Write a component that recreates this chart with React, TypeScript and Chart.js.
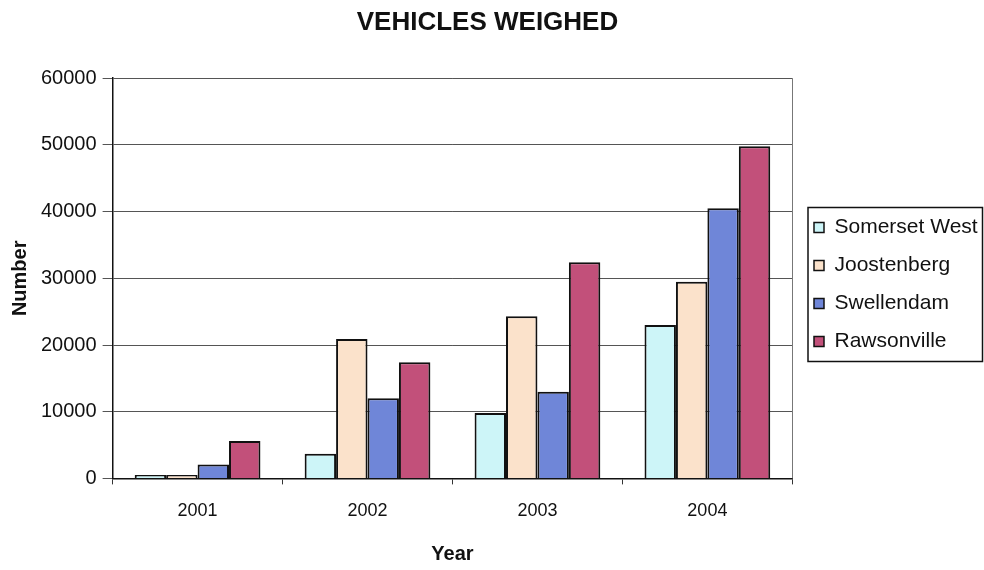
import React, { useEffect, useRef } from 'react';
import { Chart, registerables } from 'chart.js';

Chart.register(...registerables);

const years = ['2001', '2002', '2003', '2004'];
const somersetWest = [500, 3700, 9800, 23000];
const joostenberg = [500, 20900, 24300, 29500];
const swellendam = [2100, 12000, 13000, 40500];
const rawsonville = [5600, 17400, 32400, 49800];
const seriesNames = ['Somerset West', 'Joostenberg', 'Swellendam', 'Rawsonville'];
const seriesColors = ['#cdf5f8', '#fbe2cb', '#6f86d8', '#c2507a'];
const yMin = 0;
const yMax = 60000;
const yStep = 10000;

const FONT = '"Liberation Sans", Arial, sans-serif';

// places the legend block and title, draws the legend frame and the plot-area right edge
const frames = {
  id: 'frames',
  afterLayout(chart: any) {
    const lg = chart.legend;
    if (lg) {
      const w = lg.right - lg.left;
      lg.left = 797;
      lg.right = lg.left + w;
      const h = lg.bottom - lg.top;
      lg.top = 200;
      lg.bottom = lg.top + h;
    }
    const tb = chart.titleBlock;
    if (tb) {
      tb.left -= 8;
      tb.right -= 8;
    }
  },
  beforeDatasetsDraw(chart: any) {
    const { ctx, chartArea } = chart;
    ctx.save();
    ctx.strokeStyle = '#777';
    ctx.lineWidth = 1;
    ctx.beginPath();
    ctx.moveTo(Math.round(chartArea.right) + 0.5, chartArea.top);
    ctx.lineTo(Math.round(chartArea.right) + 0.5, chartArea.bottom);
    ctx.stroke();
    ctx.restore();
  },
  afterDraw(chart: any) {
    const lg = chart.legend;
    if (!lg || !lg.legendHitBoxes || !lg.legendHitBoxes.length) return;
    const boxes = lg.legendHitBoxes;
    let l = Infinity, t = Infinity, b = -Infinity;
    for (const h of boxes) {
      l = Math.min(l, h.left);
      t = Math.min(t, h.top);
      b = Math.max(b, h.top + h.height);
    }
    const ctx = chart.ctx;
    ctx.save();
    ctx.strokeStyle = '#111';
    ctx.lineWidth = 1.5;
    const x0 = l - 6;
    const y0 = t - 9.5;
    ctx.strokeRect(x0, y0, chart.width - 1.5 - x0, b + 9.5 - y0);
    ctx.restore();
  },
};

export default function App() {
  const ref = useRef<HTMLCanvasElement | null>(null);
  useEffect(() => {
    document.body.style.margin = '0';
    const canvas = ref.current!;
    const data = [somersetWest, joostenberg, swellendam, rawsonville];
    const chart = new Chart(canvas, {
      type: 'bar',
      data: {
        labels: years,
        datasets: data.map((d, i) => ({
          label: seriesNames[i],
          data: d,
          backgroundColor: seriesColors[i],
          borderColor: '#111',
          borderWidth: 2,
          barPercentage: 1,
          categoryPercentage: 0.74,
        })),
      },
      options: {
        responsive: false,
        animation: false,
        devicePixelRatio: 1,
        layout: { padding: { left: 8, right: 1, top: 5, bottom: 4 } },
        plugins: {
          title: {
            display: true,
            text: 'VEHICLES WEIGHED',
            color: '#111',
            font: { family: FONT, size: 26, weight: 'bold' },
            padding: { top: 2, bottom: 40 },
          },
          legend: {
            display: true,
            position: 'right',
            align: 'start',
            labels: {
              color: '#111',
              font: { family: FONT, size: 21 },
              boxWidth: 10,
              boxHeight: 10,
              padding: 17,
              generateLabels: (chart: any) =>
                chart.data.datasets.map((ds: any, i: number) => ({
                  text: ds.label,
                  fillStyle: ds.backgroundColor,
                  strokeStyle: '#111',
                  lineWidth: 1.5,
                  datasetIndex: i,
                  hidden: false,
                  fontColor: '#111',
                })),
            },
          },
          tooltip: { enabled: false },
        },
        scales: {
          x: {
            grid: { display: true, drawOnChartArea: false, drawTicks: true, tickLength: 6, color: '#333', offset: true },
            border: { display: true, color: '#111', width: 1.5 },
            ticks: { color: '#111', font: { family: FONT, size: 18 }, padding: 16 },
            title: {
              display: true,
              text: 'Year',
              color: '#111',
              font: { family: FONT, size: 20, weight: 'bold' },
              padding: { top: 4, bottom: 0 },
            },
          },
          y: {
            min: yMin,
            max: yMax,
            grid: { color: '#555', lineWidth: 1, tickLength: 10, drawTicks: true },
            border: { display: true, color: '#111', width: 1.5 },
            ticks: {
              stepSize: yStep,
              color: '#111',
              font: { family: FONT, size: 20 },
              padding: 6,
              callback: (v: any) => String(v),
            },
            title: {
              display: true,
              text: 'Number',
              color: '#111',
              font: { family: FONT, size: 20, weight: 'bold' },
              padding: { top: 0, bottom: 3 },
            },
          },
        },
      },
      plugins: [frames],
    } as any);
    return () => chart.destroy();
  }, []);
  return <canvas ref={ref} width={984} height={570} style={{ display: 'block', background: '#fff' }} />;
}
